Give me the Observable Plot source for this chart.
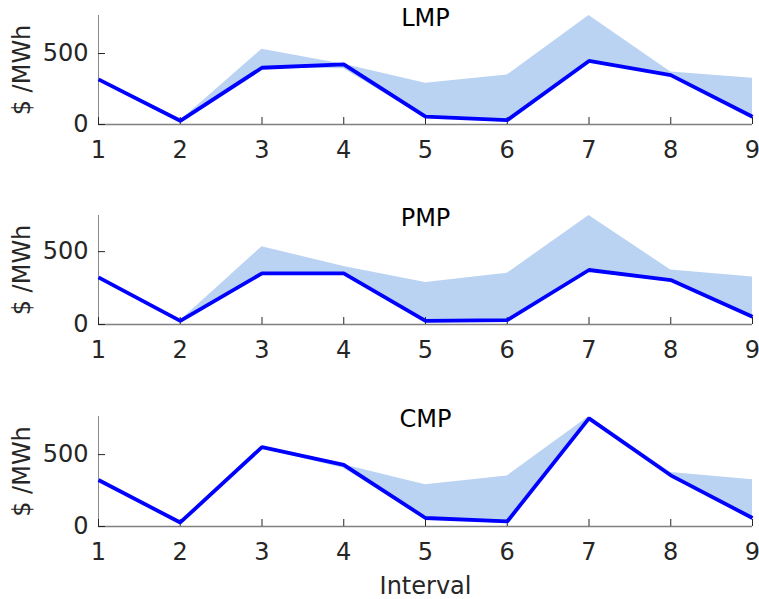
<!DOCTYPE html>
<html>
<head>
<meta charset="utf-8">
<script src="https://cdn.jsdelivr.net/npm/d3@7"></script>
<script src="https://cdn.jsdelivr.net/npm/@observablehq/plot@0.6"></script>
<style>
  html, body { margin: 0; padding: 0; background: #ffffff; }
  #chart { width: 759px; height: 599px; }
  #chart svg { display: block; }
</style>
</head>
<body>
<div id="chart"></div>
<script>
// ---- data ----
const intervals = [1, 2, 3, 4, 5, 6, 7, 8, 9];
const panelTitles = ["LMP", "PMP", "CMP"];
const yLabel = "$ /MWh";
const xLabel = "Interval";
const yTicks = [0, 500];

const lmpLine  = [318, 26, 400, 424, 55, 31, 448, 348, 55];
const lmpUpper = [318, 26, 531, 424, 291, 348, 768, 370, 325];
const lmpLower = [318, 22, 400, 393, 48, 15, 448, 348, 55];

const pmpLine  = [323, 25, 351, 351, 25, 30, 374, 305, 53];
const pmpUpper = [323, 25, 534, 398, 289, 351, 748, 374, 326];
const pmpLower = [323, 20, 351, 351, 22, 25, 374, 305, 53];

const cmpLine  = [323, 28, 552, 429, 59, 35, 752, 356, 59];
const cmpUpper = [323, 28, 552, 429, 290, 351, 765, 375, 325];
const cmpLower = [323, 22, 540, 405, 50, 21, 752, 356, 59];

const series = [
  {title: panelTitles[0], line: lmpLine, upper: lmpUpper, lower: lmpLower},
  {title: panelTitles[1], line: pmpLine, upper: pmpUpper, lower: pmpLower},
  {title: panelTitles[2], line: cmpLine, upper: cmpUpper, lower: cmpLower}
];

const chart = document.getElementById("chart");
const font = "'DejaVu Sans', sans-serif";

series.forEach((s, i) => {
  const last = i === series.length - 1;
  const rows = intervals.map((x, k) => ({x, line: s.line[k], upper: s.upper[k], lower: s.lower[k]}));
  const height = last ? 199 : 200;
  const marginTop = last ? 16 : 15;
  const marginBottom = last ? 73 : 76;
  const marks = [
    Plot.areaY(rows, {x: "x", y1: "lower", y2: "upper", fill: "#bad3f2", fillOpacity: 1}),
    Plot.ruleY([0], {stroke: "#808080", strokeWidth: 1.5}),
    Plot.ruleX([1], {stroke: "#8a8a8a", strokeWidth: 1}),
    // inward tick marks
    Plot.axisX(intervals, {tickSize: 7, dy: -7, tickFormat: () => "", stroke: "#262626", label: null}),
    Plot.axisY(yTicks, {tickSize: 7, dx: 7, tickFormat: () => "", stroke: "#262626", label: null}),
    // tick labels
    Plot.axisX(intervals, {tickSize: 0, tickPadding: 16, fill: "#262626", label: null}),
    Plot.axisY(yTicks, {tickSize: 0, tickPadding: 10, fill: "#262626", label: null}),
    Plot.lineY(rows, {x: "x", y: "line", stroke: "#0000ff", strokeWidth: 3.8, strokeLinejoin: "miter", strokeLinecap: "butt"}),
    Plot.text([s.title], {frameAnchor: "top", lineAnchor: "bottom", dy: 10, fill: "#000000", fontSize: 24}),
    Plot.text([yLabel], {frameAnchor: "left", textAnchor: "middle", lineAnchor: "middle", rotate: -90, dx: -76, fill: "#262626", fontSize: 24})
  ];
  if (last) {
    marks.push(Plot.text([xLabel], {frameAnchor: "bottom", lineAnchor: "bottom", dy: 67, fill: "#262626", fontSize: 24}));
  }
  const svg = Plot.plot({
    width: 759,
    height,
    marginLeft: 98,
    marginRight: 7,
    marginTop,
    marginBottom,
    style: {fontFamily: font, fontSize: "24px", color: "#262626", background: "#ffffff", overflow: "visible"},
    x: {domain: [1, 9], axis: null},
    y: {domain: [0, d3.max(s.upper)], axis: null},
    marks
  });
  chart.appendChild(svg);
});
</script>
</body>
</html>
